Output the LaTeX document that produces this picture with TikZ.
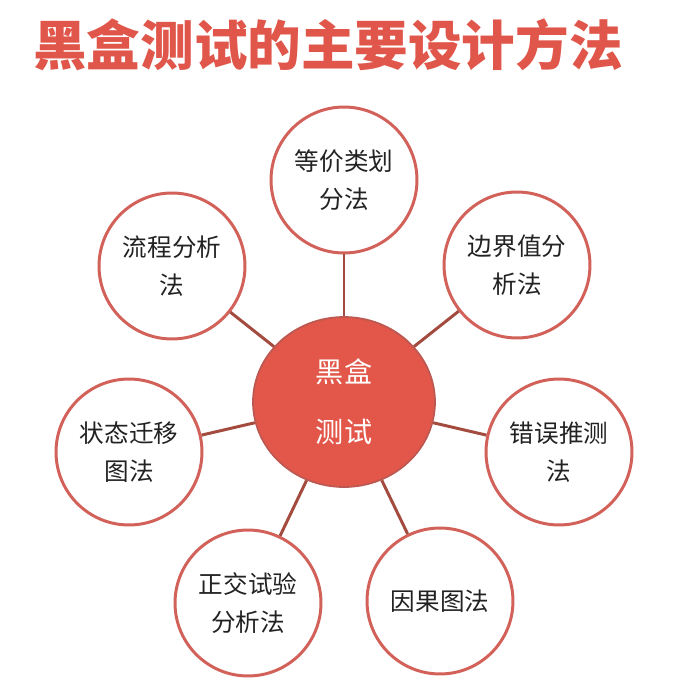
\documentclass[tikz,border=0pt]{standalone}
\usepackage{fontspec}
\setmainfont{Noto Sans CJK SC}
\newfontfamily\cjk{Noto Sans CJK SC}
\usepackage{xcolor}
\usetikzlibrary{shapes.geometric}
\definecolor{titlered}{HTML}{E0564A}
\definecolor{hubred}{HTML}{E25749}
\definecolor{rimred}{HTML}{D2615A}
\definecolor{linkbrown}{HTML}{A34B3E}
\definecolor{inkgray}{HTML}{222222}

\begin{document}
\begin{tikzpicture}[x=0.02cm,y=-0.02cm]
    % Styles for circles and lines
    \tikzset{
      hub/.style={ellipse, fill=hubred, draw=rimred!90!black, line width=1pt, minimum width=3.64cm, minimum height=3.4cm, inner sep=0pt, align=center, text=white, font=\cjk\fontsize{16}{34}\selectfont},
      leaf/.style={circle, fill=white, draw=rimred, line width=1.7pt, minimum size=2.92cm, inner sep=0pt, align=center, text=inkgray, font=\cjk\fontsize{14}{21.5}\selectfont},
      link/.style={linkbrown, line width=1.7pt}
    }
    \useasboundingbox (0,0) rectangle (673,690);

    % Title
    \node[text=titlered, font=\cjk\bfseries\fontsize{30.5}{34}\selectfont] (title) at (328,45) {黑盒测试的主要设计方法};

    % Nodes with explicit coordinates
    \node[hub] (BB) at (344,402) {黑盒\\测试};
    \node[leaf] (EQ) at (344,180) {等价类划\\分法};
    \node[leaf] (BV) at (517,265) {边界值分\\析法};
    \node[leaf] (EG) at (559,452) {错误推测\\法};
    \node[leaf] (CE) at (440,601) {因果图法};
    \node[leaf] (OA) at (248,603) {正交试验\\分析法};
    \node[leaf] (ST) at (129,452) {状态迁移\\图法};
    \node[leaf] (FA) at (172,266) {流程分析\\法};

    % Lines from the centre
    \foreach \leafname in {EQ,BV,EG,CE,OA,ST,FA}
      \draw[link] (BB) -- (\leafname);

\end{tikzpicture}
\end{document}
